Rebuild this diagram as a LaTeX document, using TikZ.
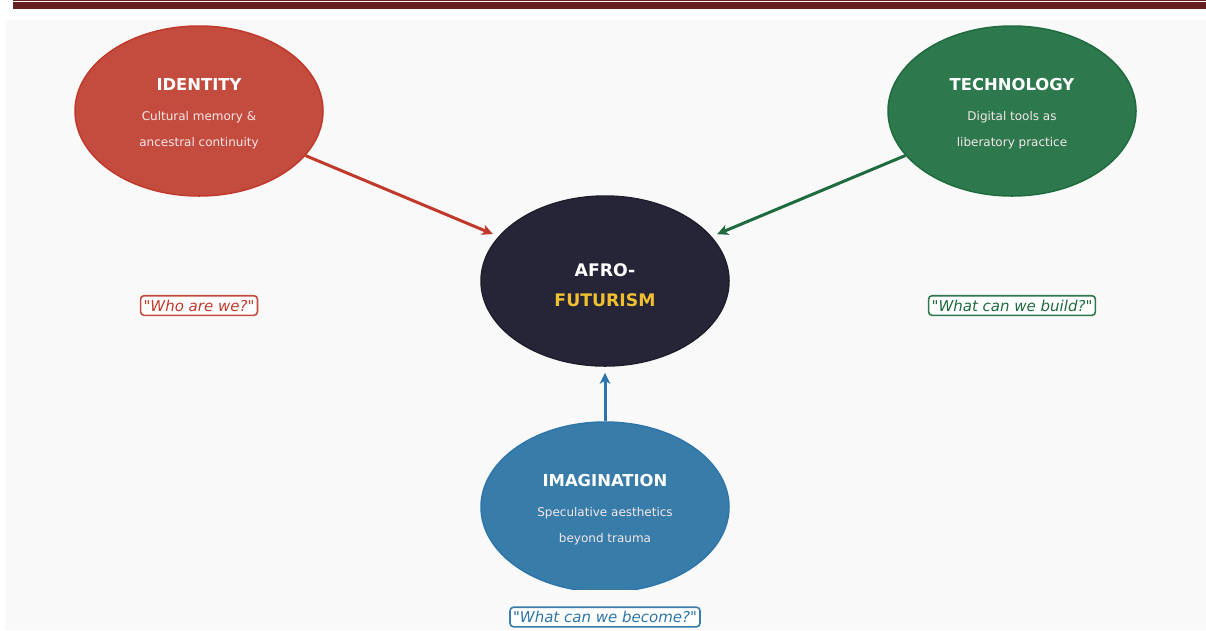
\documentclass[tikz,border=0pt]{standalone}
\usepackage{fontspec}
\setmainfont{DejaVu Sans}[Ligatures=TeXOff]
\usetikzlibrary{shapes.geometric,arrows.meta}
\definecolor{barcol}{HTML}{65201F}
\definecolor{panel}{HTML}{F9F9F9}
\definecolor{idfill}{HTML}{C44C3F}
\definecolor{iddraw}{HTML}{C0392B}
\definecolor{tefill}{HTML}{2E784D}
\definecolor{tedraw}{HTML}{1E6B3E}
\definecolor{cefill}{HTML}{252537}
\definecolor{imfill}{HTML}{387CAA}
\definecolor{imdraw}{HTML}{2E75AA}
\definecolor{gold}{HTML}{F0C030}
\definecolor{subtxt}{HTML}{F4E8E8}
\tikzset{
  blob/.style={ellipse, minimum width=248pt, minimum height=170pt, inner sep=0pt, line width=1.5pt},
  ttl/.style={font=\fontsize{16.4}{18}\selectfont\bfseries, text=white, inner sep=0pt},
  sub/.style={font=\fontsize{12}{14}\selectfont, text=subtxt, inner sep=0pt},
  ctl/.style={font=\fontsize{17.3}{20}\selectfont\bfseries, inner sep=0pt},
  qbox/.style={draw, line width=1.6pt, rounded corners=3.5pt, fill=white, inner xsep=3pt, inner ysep=4pt, font=\fontsize{15}{17}\selectfont\itshape},
  link/.style={line width=3pt, -{Stealth[length=11pt,width=10.5pt,inset=3pt]}, shorten >=6pt}
}
\begin{document}
\begin{tikzpicture}[x=1pt,y=-1pt]
\useasboundingbox (0,0) rectangle (1206,630);
\fill[white] (0,0) rectangle (1206,630);
\fill[barcol] (13,0) rectangle (1206,0.9);
\fill[barcol] (13,2) rectangle (1206,9);
\fill[panel] (5,20) rectangle (1206,630);

% ellipses
\node[blob, fill=idfill, draw=iddraw] (idt) at (199,111) {};
\node[blob, fill=tefill, draw=tedraw] (tec) at (1012,111) {};
\node[blob, fill=cefill, draw=cefill!80!black] (ctr) at (605,281) {};
\begin{scope}
\clip (0,20) rectangle (1206,589);
\node[blob, fill=imfill, draw=imdraw] (ima) at (605,507) {};
\end{scope}

% texts
\node[ttl] (idt-t) at ([yshift=26pt]idt.center) {IDENTITY};
\node[sub] (idt-a) at ([yshift=-6pt]idt.center) {Cultural memory \&};
\node[sub] (idt-b) at ([yshift=-32pt]idt.center) {ancestral continuity};

\node[ttl] (tec-t) at ([yshift=26pt]tec.center) {TECHNOLOGY};
\node[sub] (tec-a) at ([yshift=-6pt]tec.center) {Digital tools as};
\node[sub] (tec-b) at ([yshift=-32pt]tec.center) {liberatory practice};

\node[ttl] (ima-t) at ([yshift=26pt]ima.center) {IMAGINATION};
\node[sub] (ima-a) at ([yshift=-6pt]ima.center) {Speculative aesthetics};
\node[sub] (ima-b) at ([yshift=-32pt]ima.center) {beyond trauma};

\node[ctl, text=white] (ctr-a) at ([yshift=11pt]ctr.center) {AFRO-};
\node[ctl, text=gold] (ctr-b) at ([yshift=-19pt]ctr.center) {FUTURISM};

% connectors
\draw[link, draw=iddraw, fill=iddraw] (idt) -- (ctr);
\draw[link, draw=tedraw, fill=tedraw] (tec) -- (ctr);
\draw[link, draw=imdraw, fill=imdraw] (ima) -- (ctr);

% questions
\node[qbox, draw=idfill, text=iddraw] (q1) at (199,305.5) {"Who are we?"};
\node[qbox, draw=tefill, text=tedraw] (q2) at (1012,305.5) {"What can we build?"};
\node[qbox, draw=imfill, text=imdraw] (q3) at (605,617) {"What can we become?"};
\end{tikzpicture}
\end{document}
